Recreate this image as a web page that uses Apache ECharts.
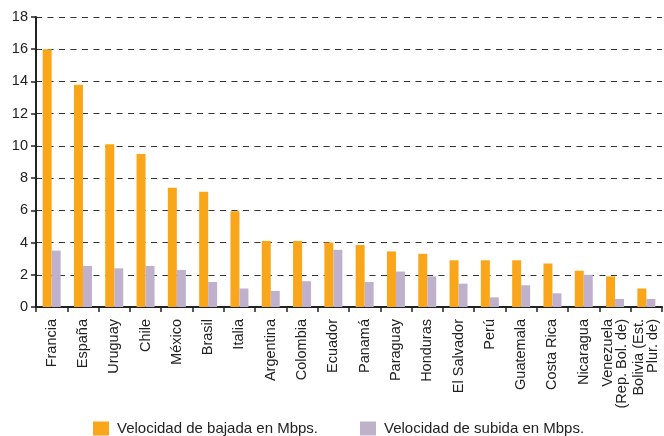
<!DOCTYPE html>
<html>
<head>
<meta charset="utf-8">
<script src="https://cdn.jsdelivr.net/npm/echarts@6/dist/echarts.min.js"></script>
<style>
  html, body { margin: 0; padding: 0; background: #fff; }
  #chart { width: 664px; height: 436px; }
</style>
</head>
<body>
<div id="chart"></div>
<script>
// Países, ordenados por velocidad de bajada
const categories = [
  'Francia', 'España', 'Uruguay', 'Chile', 'México', 'Brasil', 'Italia',
  'Argentina', 'Colombia', 'Ecuador', 'Panamá', 'Paraguay', 'Honduras',
  'El Salvador', 'Perú', 'Guatemala', 'Costa Rica', 'Nicaragua',
  'Venezuela\n(Rep. Bol. de)', 'Bolivia (Est.\nPlur. de)'
];

// Velocidad de bajada (Mbps)
const bajada = [16.0, 13.8, 10.1, 9.5, 7.4, 7.15, 5.95, 4.1, 4.1, 4.0,
                3.85, 3.45, 3.3, 2.9, 2.9, 2.9, 2.7, 2.25, 1.9, 1.15];

// Velocidad de subida (Mbps)
const subida = [3.5, 2.55, 2.4, 2.55, 2.3, 1.55, 1.15, 1.0, 1.6, 3.55,
                1.55, 2.2, 1.9, 1.45, 0.6, 1.35, 0.85, 2.0, 0.5, 0.5];

const seriesNames = ['Velocidad de bajada en Mbps.', 'Velocidad de subida en Mbps.'];

// Eje vertical: 0 a 18, de 2 en 2
const yMin = 0, yMax = 18, yStep = 2;

const font = '"Liberation Sans", Arial, Helvetica, sans-serif';
const chart = echarts.init(document.getElementById('chart'), null, { renderer: 'canvas' });

chart.setOption({
  animation: false,
  backgroundColor: '#ffffff',
  textStyle: { fontFamily: font },
  grid: { left: 36, right: 2, top: 17, bottom: 129, containLabel: false },
  legend: {
    left: 93,
    top: 421,
    padding: 0,
    itemWidth: 16,
    itemHeight: 14,
    itemGap: 42,
    icon: 'rect',
    textStyle: { fontSize: 15, color: '#222', fontFamily: font, padding: [0, 0, 0, 3] },
    data: seriesNames
  },
  xAxis: {
    type: 'category',
    data: categories,
    axisLine: { lineStyle: { color: '#222', width: 2 } },
    axisTick: { show: true, length: 5, alignWithLabel: false, lineStyle: { color: '#222', width: 1.5 } },
    axisLabel: {
      rotate: 90,
      interval: 0,
      margin: 12,
      fontSize: 14.5,
      color: '#222',
      fontFamily: font,
      lineHeight: 14
    }
  },
  yAxis: {
    type: 'value',
    min: yMin,
    max: yMax,
    interval: yStep,
    axisLine: { show: true, lineStyle: { color: '#222', width: 2 } },
    axisTick: { show: true, length: 5, lineStyle: { color: '#222', width: 1.5 } },
    axisLabel: { fontSize: 14.5, color: '#222', margin: 8, fontFamily: font },
    splitLine: {
      show: true,
      lineStyle: { color: '#333', width: 1, type: [6, 5.5] }
    }
  },
  series: [
    {
      name: seriesNames[0],
      type: 'bar',
      data: bajada,
      barWidth: 9,
      barGap: '0%',
      itemStyle: { color: '#FAA61A' }
    },
    {
      name: seriesNames[1],
      type: 'bar',
      data: subida,
      barWidth: 9,
      barGap: '0%',
      itemStyle: { color: '#BFB1CB' }
    }
  ]
});
</script>
</body>
</html>
